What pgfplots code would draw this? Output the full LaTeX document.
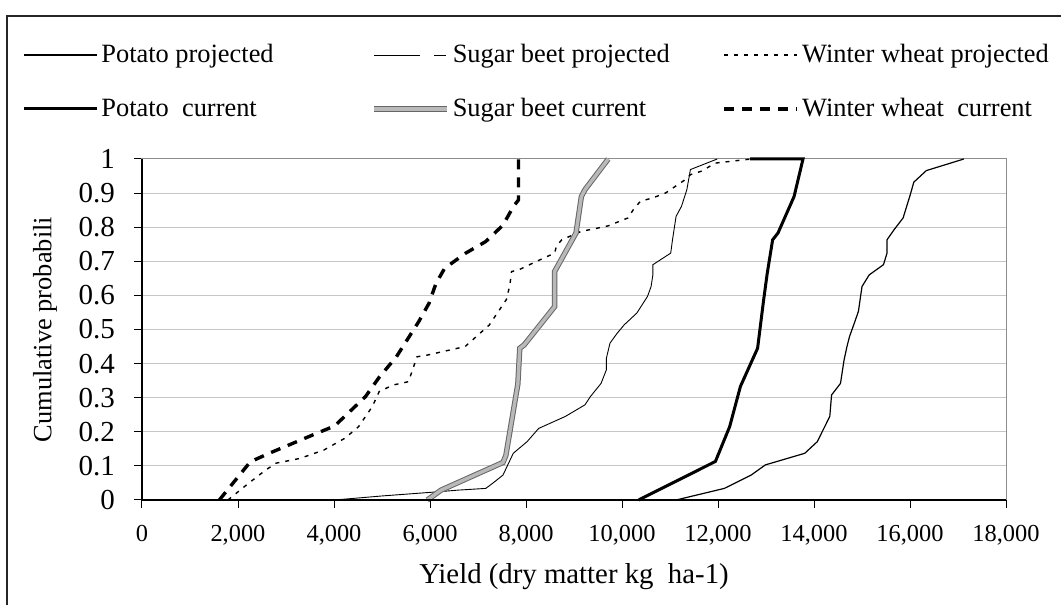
\documentclass[border=0pt]{standalone}
\usepackage{fontspec}
\setmainfont{Liberation Serif}
\usepackage{pgfplots}
\pgfplotsset{compat=1.18}
\usepackage{pgfplotstable}

\pgfplotstableread{
x y
11127 0
12132 0.034
12690 0.073
12988 0.103
13808 0.137
14068 0.171
14329 0.245
14366 0.308
14552 0.342
14627 0.411
14687 0.45
14739 0.479
14851 0.523
14925 0.553
15000 0.626
15149 0.66
15447 0.69
15521 0.724
15521 0.763
15670 0.793
15856 0.827
16005 0.895
16079 0.932
16340 0.966
17122 1.0
}\potatoproj

\pgfplotstableread{
x y
4011 0
5013 0.012
5300 0.015
6159 0.024
6589 0.029
7162 0.034
7305 0.049
7520 0.073
7735 0.137
8022 0.171
8265 0.21
8819 0.245
9228 0.279
9340 0.303
9564 0.342
9675 0.382
9675 0.416
9750 0.46
9899 0.489
10048 0.514
10308 0.548
10531 0.597
10606 0.626
10643 0.66
10643 0.69
11015 0.724
11052 0.763
11127 0.832
11239 0.861
11351 0.91
11425 0.969
11984 1.0
}\beetproj

\pgfplotstableread{
x y
1790 0
2220 0.049
2578 0.088
2793 0.108
3294 0.122
3796 0.147
4225 0.181
4512 0.215
4798 0.274
4942 0.318
5228 0.337
5551 0.347
5730 0.42
5945 0.425
6732 0.45
7234 0.513
7592 0.588
7663 0.63
7700 0.67
7851 0.675
8223 0.70
8596 0.724
8633 0.744
8745 0.763
9154 0.788
9415 0.795
9713 0.804
10122 0.827
10234 0.851
10383 0.876
10643 0.886
10904 0.90
11313 0.939
11425 0.954
11648 0.964
11946 0.988
12690 1.0
}\wheatproj

\pgfplotstableread{
x y
10346 0
11946 0.113
12243 0.215
12467 0.333
12825 0.445
12951 0.587
13026 0.665
13138 0.763
13250 0.783
13585 0.89
13771 1.0
12670 1.0
}\potatocur

\pgfplotstableread{
x y
5944 0
6231 0.029
7520 0.11
7580 0.13
7830 0.34
7870 0.445
7963 0.455
8596 0.567
8596 0.67
9042 0.783
9154 0.89
9228 0.91
9713 1.0
}\beetcur

\pgfplotstableread{
x y
1611 0
2256 0.112
2650 0.137
3545 0.19
4011 0.217
4655 0.303
4942 0.36
5300 0.42
5765 0.523
5980 0.577
6124 0.635
6303 0.679
6732 0.723
7162 0.758
7520 0.806
7735 0.86
7843 0.88
7843 1.0
}\wheatcur

\begin{document}
\begin{tikzpicture}[x=1pt,y=1pt]
\useasboundingbox (0,0) rectangle (530.5,302.5);
\draw[black!85, line width=0.9pt] (3.5,-5) -- (3.5,294.5) -- (540,294.5);
\begin{axis}[
  at={(71pt,52.5pt)}, anchor=south west,
  scale only axis, width=432pt, height=170.5pt,
  xmin=0, xmax=18000, ymin=0, ymax=1,
  clip=false,
  scaled x ticks=false, scaled y ticks=false,
  xtick={0,2000,4000,6000,8000,10000,12000,14000,16000,18000},
  xticklabels={0,{2,000},{4,000},{6,000},{8,000},{10,000},{12,000},{14,000},{16,000},{18,000}},
  ytick={0,0.1,0.2,0.3,0.4,0.5,0.6,0.7,0.8,0.9,1},
  yticklabels={0,0.1,0.2,0.3,0.4,0.5,0.6,0.7,0.8,0.9,1},
  ymajorgrids,
  major grid style={gray!45, line width=0.5pt},
  axis line style={draw=gray!90, line width=0.5pt},
  tick align=outside, tick pos=left, major tick length=4pt,
  tick style={black, line width=0.5pt},
  xticklabel style={font=\fontsize{12.2}{14}\selectfont, yshift=-5pt},
  yticklabel style={font=\fontsize{14.5}{16}\selectfont, xshift=-6pt},
  xlabel={Yield (dry matter kg\ \ ha-1)},
  ylabel={Cumulative probabili},
  xlabel style={at={(axis description cs:0.5,-0.2258)}, anchor=center, inner sep=0pt, font=\fontsize{14.4}{16}\selectfont},
  ylabel style={at={(axis description cs:-0.1123,0.5)}, anchor=center, inner sep=0pt, font=\fontsize{13.2}{15}\selectfont},
  extra description/.code={\draw[black, line width=0.6pt] (0,1) -- (0,0) -- (1,0);},
  legend columns=3,
  legend cell align=left,
  legend style={at={(-0.1389,1.3372)}, anchor=north west, draw=none, fill=none,
    inner sep=0pt, column sep=0pt, row sep=16.3pt,
    nodes={inner sep=0pt},
    font=\fontsize{13.2}{15}\selectfont},
  legend image code/.code={\draw[#1] (0pt,0pt) -- (36.5pt,0pt); \path (38pt,0pt);},
]
\addplot[black, line width=0.6pt] table {\potatoproj};
\addlegendentry{\makebox[135pt][l]{Potato projected}}
\addplot[black, line width=0.45pt,
  legend image code/.code={\draw[black, line width=0.45pt] (0pt,0pt) -- (23pt,0pt) (30pt,0pt) -- (36pt,0pt); \path (38pt,0pt);}] table {\beetproj};
\addlegendentry{\makebox[135pt][l]{Sugar beet projected}}
\addplot[black, line width=0.7pt, dash pattern=on 2pt off 3pt] table {\wheatproj};
\addlegendentry{\makebox[135pt][l]{Winter wheat projected}}
\addplot[black, line width=1.5pt] table {\potatocur};
\addlegendentry{\makebox[135pt][l]{Potato\ \ current}}
\addplot[draw=gray!80!black, line width=0.5pt, double=gray!55, double distance=1.7pt] table {\beetcur};
\addlegendentry{\makebox[135pt][l]{Sugar beet current}}
\addplot[black, line width=1.7pt, dash pattern=on 5pt off 4pt] table {\wheatcur};
\addlegendentry{\makebox[135pt][l]{Winter wheat\ \ current}}
\end{axis}
\end{tikzpicture}
\end{document}
